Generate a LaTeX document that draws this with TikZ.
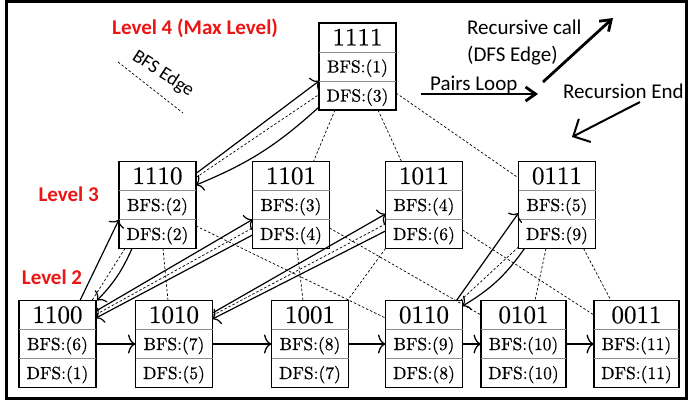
\documentclass[tikz,border=0pt]{standalone}
\usepackage{fontspec}
\newfontfamily\legendfont{Carlito}
\newfontfamily\boxfont{lmroman10-regular.otf}[FakeBold=0.6]
\usetikzlibrary{arrows.meta}

\definecolor{levelred}{RGB}{237,20,20}

\tikzset{
  cell/.style={draw=black, line width=1.3pt, fill=white, minimum height=87pt,
    inner sep=0pt, outer sep=0pt},
  divider/.style={draw=black!45, line width=0.8pt},
  titletext/.style={inner sep=0pt, text height=16pt, text depth=0pt,
    font=\boxfont\fontsize{25}{25}\selectfont},
  rowtext/.style={inner sep=0pt, text height=12pt, text depth=0pt,
    font=\boxfont\fontsize{17.5}{17.5}\selectfont},
  bfsedge/.style={line width=0.7pt, dash pattern=on 2.5pt off 2pt},
  dfscall/.style={line width=1.2pt,
    -{Computer Modern Rightarrow[length=6.5pt,width=17pt]}},
  dfsreturn/.style={dfscall},
  pairstep/.style={line width=1.3pt,
    -{Computer Modern Rightarrow[length=7.5pt,width=19pt]}},
  levellabel/.style={text=levelred, inner sep=0pt, anchor=base west,
    font=\legendfont\bfseries\fontsize{21}{21}\selectfont},
  legendtext/.style={inner sep=0pt, font=\legendfont\fontsize{21}{21}\selectfont},
  legendarrow/.style={line width=2.8pt, -{Straight Barb[length=10pt,width=14pt]}},
  endarrow/.style={line width=2pt, -{Straight Barb[length=13pt,width=26pt]}},
}

% a three-row state box: name, x, y, width, bit string, BFS order, DFS order
\newcommand\statebox[7]{%
  \node[cell, minimum width=#4] (#1) at (#2,#3) {};
  \draw[divider] ([yshift=-29pt]#1.north west) -- ([yshift=-29pt]#1.north east);
  \draw[divider] ([yshift=29pt]#1.south west) -- ([yshift=29pt]#1.south east);
  \node[titletext] (#1-t) at ([yshift=-14.5pt]#1.north) {\bfseries #5};
  \node[rowtext] (#1-b) at (#1.center) {\bfseries #6};
  \node[rowtext] (#1-d) at ([yshift=14.5pt]#1.south) {\bfseries #7};
}

\begin{document}
\begin{tikzpicture}[x=1pt,y=1pt]
\useasboundingbox (0,0) rectangle (689,405);
\draw[line width=3pt] (6,403.5) rectangle (686,6.5);

% lattice of subsets
\statebox{n1111}{357.5}{338.5}{77pt}{1111}{BFS:(1)}{DFS:(3)}
\statebox{n1110}{157.5}{200}{77pt}{1110}{BFS:(2)}{DFS:(2)}
\statebox{n1101}{291}{200}{77pt}{1101}{BFS:(3)}{DFS:(4)}
\statebox{n1011}{424}{200}{77pt}{1011}{BFS:(4)}{DFS:(6)}
\statebox{n0111}{557}{200}{77pt}{0111}{BFS:(5)}{DFS:(9)}
\statebox{n1100}{57.5}{61}{77pt}{1100}{BFS:(6)}{DFS:(1)}
\statebox{n1010}{174}{61}{77pt}{1010}{BFS:(7)}{DFS:(5)}
\statebox{n1001}{310}{61}{77pt}{1001}{BFS:(8)}{DFS:(7)}
\statebox{n0110}{424}{61}{77pt}{0110}{BFS:(9)}{DFS:(8)}
\statebox{n0101}{523.5}{61}{85pt}{0101}{BFS:(10)}{DFS:(10)}
\statebox{n0011}{636.5}{61}{85pt}{0011}{BFS:(11)}{DFS:(11)}

% BFS edges (subset relations)
\draw[bfsedge] ([xshift=16pt]n1111.south west) -- ([xshift=-16pt]n1101.north east);
\draw[bfsedge] ([xshift=-18pt]n1111.south east) -- ([xshift=16pt]n1011.north west);
\draw[bfsedge] ([yshift=-26.5pt]n1111.east) -- ([yshift=27pt]n0111.west);
\draw[bfsedge] ([xshift=5.5pt]n1110.south) -- ([xshift=-6pt]n1010.north);
\draw[bfsedge] ([yshift=-21pt]n1110.east) -- ([yshift=26pt]n0110.west);
\draw[bfsedge] ([xshift=6pt]n1101.south) -- ([xshift=-7pt]n1001.north);
\draw[bfsedge] ([yshift=-23pt]n1101.east) -- ([yshift=29pt]n0101.west);
\draw[bfsedge] (n1011.south west) -- ([xshift=-1pt]n1001.north east);
\draw[bfsedge] ([yshift=-25pt]n1011.east) -- ([yshift=29pt]n0011.west);
\draw[bfsedge] ([xshift=-11pt]n0111.south) -- ([xshift=11.5pt]n0101.north);
\draw[bfsedge] ([xshift=-12pt]n0111.south east) -- ([xshift=17pt]n0011.north west);

% recursive calls, BFS edge and recursion end, 1100 <-> 1110
\draw[dfscall] ([xshift=61pt]n1100.north west) -- ([yshift=-14.5pt]n1110.west);
\draw[bfsedge] ([xshift=6pt]n1110.south west) -- ([xshift=-4pt]n1100.north east);
\draw[dfsreturn] ([xshift=13pt]n1110.south west) to[bend left=10] ([xshift=1pt]n1100.north east);

% 1110 <-> 1111
\draw[dfscall] ([yshift=-12pt]n1110.north east) -- ([yshift=-14.5pt]n1111.west);
\draw[bfsedge] ([yshift=-16pt]n1110.north east) -- ([yshift=-28pt]n1111.west);
\draw[dfsreturn] ([yshift=3pt]n1111.south west) to[bend left=10] ([yshift=-23.5pt]n1110.north east);

% 1100 <-> 1101
\draw[dfscall] ([yshift=-10.5pt]n1100.north east) -- ([yshift=-14.5pt]n1101.west);
\draw[bfsedge] ([yshift=-14pt]n1100.north east) -- ([yshift=-23pt]n1101.west);
\draw[dfsreturn] ([yshift=-30pt]n1101.west) -- ([yshift=-17.5pt]n1100.north east);

% 1010 <-> 1011
\draw[dfscall] ([yshift=-12.5pt]n1010.north east) -- ([yshift=-9pt]n1011.west);
\draw[bfsedge] ([yshift=-15pt]n1010.north east) -- ([yshift=-19pt]n1011.west);
\draw[dfsreturn] ([yshift=-26pt]n1011.west) -- ([yshift=-18.5pt]n1010.north east);

% 0110 <-> 0111
\draw[dfscall] ([xshift=-6pt]n0110.north east) -- ([yshift=-8pt]n0111.west);
\draw[bfsedge] ([xshift=-2pt]n0110.north east) -- ([yshift=1.5pt]n0111.south west);
\draw[dfsreturn] ([xshift=6pt]n0111.south west) to[bend left=12] ([yshift=-5.5pt]n0110.north east);

% pairs loop along the bottom level
\draw[pairstep] (n1100.east) -- (n1010.west);
\draw[pairstep] (n1010.east) -- (n1001.west);
\draw[pairstep] (n1001.east) -- (n0110.west);
\draw[pairstep] (n0110.east) -- (n0101.west);
\draw[pairstep] (n0101.east) -- (n0011.west);

% level labels
\node[levellabel] (lvl4) at (112,370.7) {Level 4 (Max Level)};
\node[levellabel] (lvl3) at (38.3,203.3) {Level 3};
\node[levellabel] (lvl2) at (21.7,121) {Level 2};

% legend
\node[legendtext, rotate=-33, font=\legendfont\fontsize{19}{19}\selectfont] (bfslabel) at (163,331) {BFS Edge};
\coordinate (bfsA) at (118,343);
\coordinate (bfsB) at (183,292);
\draw[bfsedge] (bfsA) -- (bfsB);

\node[legendtext, anchor=base west] (call1) at (467,370.7) {Recursive call};
\node[legendtext, anchor=base west] (call2) at (467,343.3) {(DFS Edge)};
\coordinate (callA) at (543,323);
\coordinate (callB) at (613,387);
\draw[legendarrow] (callA) -- (callB);

\node[legendtext, anchor=base west] (pairs) at (430,314.3) {Pairs Loop};
\coordinate (pairsA) at (421,311);
\coordinate (pairsB) at (538,311);
\draw[legendarrow] (pairsA) -- (pairsB);

\node[legendtext, anchor=base west] (recend) at (563,306.5) {Recursion End};
\coordinate (endA) at (640,303);
\coordinate (endB) at (572,268);
\draw[endarrow] (endA) -- (endB);
\end{tikzpicture}
\end{document}
